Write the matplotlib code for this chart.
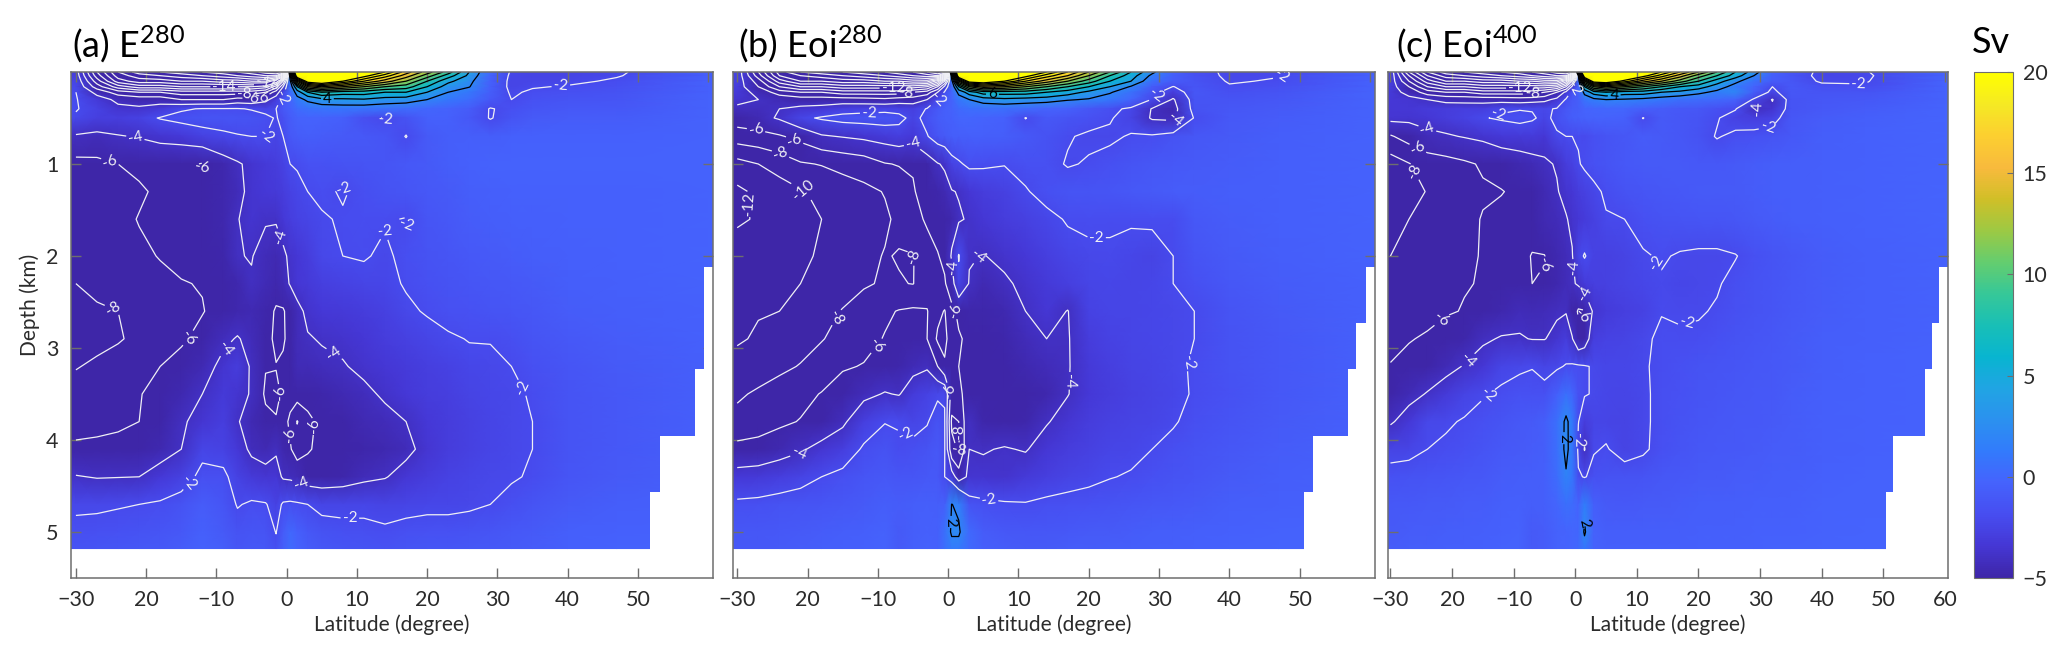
import numpy as np
import matplotlib
matplotlib.use('Agg')
import matplotlib.pyplot as plt
from matplotlib.colors import LinearSegmentedColormap

plt.rcParams['font.family'] = ['Lato', 'DejaVu Sans']
TEXT = '#2b2b2b'
FRAME = '#6e6e6e'

# grid of the overturning streamfunction (Sv)
lat = [-30, -27, -24, -21, -18, -15, -12, -9, -7, -5, -3, -1.5, -.5, .5, 1.5, 3, 5, 8, 11, 14, 17, 20, 23, 26, 29, 32, 35, 40, 47, 60]
depth = [0, .04, .1, .16, .22, .3, .4, .5, .7, 1, 1.3, 1.6, 2, 2.3, 2.6, 2.9, 3.2, 3.5, 3.8, 4.1, 4.4, 4.7, 5, 5.18]

psi_a = [
 [-3,-12,-18,-21,-22,-23,-24,-25,-26,-27,-29,-30,-28,8,30,38,34,30,26,22,17,13,9,4,0,-2.2,-2.5,-2.5,-2.2,-.6],
 [-2.8,-11,-17,-19,-20,-21,-22,-23,-24,-25,-26,-26,-20,4,26,36,32,27,23,19,15,11,7,3.5,-.3,-2.3,-2.5,-2.5,-2.1,-.6],
 [-2.4,-9,-15,-17,-17,-18,-18,-19,-19,-20,-20,-16,-8,1.5,14,24,26,22,18,15,12,8,4.5,2.6,-.5,-2.4,-2.4,-2.3,-1.8,-.5],
 [-2.2,-7,-11,-13,-13,-14,-14,-14,-14,-14,-13,-9,-4,.5,6,14,16,14,12,10,9,6,3,2.1,-.6,-2.4,-2.1,-1.9,-1.6,-.5],
 [-2,-4.6,-7,-8,-8,-9,-9,-9,-9,-9,-8,-5,-2.5,0,3,6,8,7,7,6,6,4,2,1,-.7,-2.2,-1.8,-1.6,-1.4,-.5],
 [-1.9,-3.2,-4.4,-4.8,-4.8,-6,-6,-6,-5.2,-5.4,-4.5,-3,-1.4,-.3,1.2,2.4,3.4,3.6,3.8,3.2,3,2,1,.3,-1,-2,-1.5,-1.3,-1.2,-.4],
 [-1.9,-2.6,-3.6,-3.7,-3.2,-2.2,-1.9,-1.9,-1.9,-2.1,-2.4,-2,-1,-.5,.2,.6,.8,.9,.8,.6,.3,-.1,-.4,-.8,-2.1,-1.6,-1.2,-1,-1,-.4],
 [-2.2,-2.8,-2.9,-2.6,-1.9,-1.5,-1.3,-1.3,-1.3,-1.4,-1.7,-2.1,-1.6,-.8,-.4,-.3,-.4,-.6,-1.7,-2.1,-1.4,-.5,-.5,-1,-2.1,-1.3,-.9,-.8,-.8,-.4],
 [-4.2,-4.4,-4.1,-3.9,-3.6,-3.3,-2.7,-2.3,-2.1,-2,-2,-2.4,-2,-1,-.8,-.7,-.8,-.9,-1,-1.2,-2.05,-.9,-.7,-.6,-.7,-.5,-.5,-.5,-.5,-.4],
 [-6.6,-6.5,-6,-5.5,-5.2,-5.6,-6.1,-4.8,-4.2,-3.6,-3.2,-3,-2.6,-2,-1.9,-1.5,-1.5,-1.4,-1.3,-1.2,-1,-.9,-.7,-.5,-.4,-.4,-.4,-.4,-.4,-.4],
 [-7.2,-7,-7,-6.3,-5.6,-5.5,-5.3,-4.8,-4.4,-3.6,-3.3,-3.2,-3,-2.6,-2.3,-2,-1.8,-2.1,-1.7,-1.4,-1.2,-1,-.9,-.7,-.6,-.5,-.5,-.5,-.5,-.4],
 [-7.4,-7.2,-6.6,-5.9,-5.4,-5.2,-5,-4.8,-4.05,-3.6,-3.9,-3.9,-3.3,-2.9,-2.6,-2.4,-2.1,-1.9,-1.8,-1.9,-2.05,-1.2,-1,-.8,-.7,-.6,-.6,-.5,-.5,-.4],
 [-7.6,-7.4,-6.8,-6.4,-5.9,-5.5,-5.3,-4.9,-4.05,-3.95,-4.4,-4.6,-4.3,-3.7,-3.4,-3,-2.2,-2,-1.9,-2.2,-1.7,-1.4,-1.2,-1,-.9,-.8,-.7,-.6,-.5,-.4],
 [-8,-7.8,-7.4,-7,-6.5,-6.1,-5.9,-5.3,-4.8,-4.1,-4.5,-4.8,-4.5,-3.9,-3.4,-3.2,-2.8,-2.6,-2.4,-2.3,-1.9,-1.6,-1.4,-1.2,-1.1,-1,-.9,-.7,-.6,-.4],
 [-8.1,-8.1,-8,-7.8,-7,-6.6,-6.1,-5.2,-4.8,-4.6,-4.9,-6.3,-6.2,-5.2,-4.4,-3.7,-3.3,-3.2,-3,-2.7,-2.2,-1.9,-1.6,-1.5,-1.3,-1.2,-1.1,-.8,-.7,-.5],
 [-8.6,-8.5,-8.2,-7.5,-7,-6.3,-5.4,-4.3,-3.9,-4.4,-5,-6.6,-6.3,-5.2,-4.4,-4.1,-3.9,-3.7,-3.4,-3,-2.7,-2.4,-2.15,-1.95,-1.95,-1.7,-1.3,-1,-.8,-.5],
 [-8.1,-7.7,-7.1,-6.7,-6,-5.3,-4.6,-3.6,-3,-4.2,-5.9,-5.9,-5.6,-5,-4.5,-4.5,-4.3,-4.1,-3.7,-3.4,-3.1,-2.8,-2.6,-2.3,-2.2,-2,-1.6,-1.2,-.9,-.6],
 [-7.3,-6.9,-6.5,-6.1,-5.4,-4.7,-4,-3.2,-3.6,-4.1,-6.3,-6.6,-5.6,-5.2,-5.1,-5,-4.9,-4.6,-4.3,-3.8,-3.3,-3,-2.8,-2.5,-2.3,-2.2,-1.9,-1.3,-1,-.6],
 [-6.6,-6.5,-6.3,-6,-5,-4.2,-3.5,-2.9,-3.9,-4.6,-5.5,-5.8,-5.2,-6.4,-8.1,-6.6,-5.4,-5,-4.6,-4.4,-4,-3.3,-3,-2.7,-2.4,-2.2,-2,-1.3,-1,-.6],
 [-5.7,-5.6,-5.5,-5,-4.7,-4,-2.4,-2.6,-3.3,-4.3,-4.6,-4.2,-4.8,-5.8,-7,-6.2,-5.5,-5.1,-4.9,-4.7,-4.4,-3.5,-3,-2.7,-2.4,-2.2,-2,-1.3,-1,-.6],
 [-3.9,-4.1,-4.05,-4,-3.3,-2.7,-1.6,-1.7,-2.6,-3.2,-3.5,-3.4,-4.2,-4.3,-4.5,-5,-5.1,-4.9,-4.4,-4.1,-3.4,-3,-2.6,-2.4,-2.2,-2.1,-1.9,-1.2,-.9,-.6],
 [-2.2,-2.2,-2.1,-2,-1.8,-1.4,-.8,-1.2,-2.1,-1.8,-1.9,-2.6,-1.8,-1.7,-1.8,-2,-2.4,-2.4,-2.3,-2.5,-2.4,-2.3,-2.3,-2.2,-2,-1.7,-1.3,-.9,-.7,-.5],
 [-1.7,-1.6,-1.5,-1.4,-1.2,-1,-.5,-.9,-1.4,-1.2,-1.3,-2.05,-.8,0,-.5,-1,-1.4,-1.6,-1.7,-1.8,-1.6,-1.5,-1.5,-1.4,-1.2,-1,-.9,-.6,-.5,-.4],
 [-1.4,-1.3,-1.2,-1.1,-1,-.8,-.4,-.7,-1.2,-1,-1.1,-1.6,-.7,.2,-.3,-.8,-1.1,-1.3,-1.4,-1.5,-1.3,-1.2,-1.2,-1.1,-1,-.9,-.8,-.5,-.4,-.3],
]

psi_b = [
 [-2.5,-10,-17,-20,-21,-22,-23,-24,-25,-26,-28,-30,-28,10,28,38,34,30,26,22,18,14,10,6,2.5,-.5,-1.6,-2.2,-2.1,-.5],
 [-2.6,-9,-16,-18,-19,-20,-21,-22,-23,-24,-25,-26,-20,4,26,36,32,27,23,19,16,12,8,5,1.5,-.6,-1.5,-2.2,-2.05,-.5],
 [-2.8,-7,-13,-16,-16,-17,-17,-18,-18,-19,-19,-15,-8,1,14,24,25,22,18,15,12,9,6,4,.5,-.8,-1.3,-2.1,-1.9,-.5],
 [-3,-6,-10,-12,-12,-13,-13,-13,-13,-13,-12,-8,-3.5,0,6,12,15,14,12,10,8,6,4,1.8,-.8,-2.05,-1.2,-1.9,-1.6,-.5],
 [-3.2,-4.5,-7,-8,-8,-9,-9,-9,-9,-8,-7,-4,-1.8,-.2,2.6,5,7,7,7,6,5,3.5,2.2,.6,-1.4,-3,-1.1,-1.6,-1.3,-.4],
 [-3.6,-4,-4.5,-5,-5,-5,-5.2,-5.5,-5,-5,-4,-2,-1,-.4,1,2,3,3.5,3.2,3,2.2,1.8,1,-.2,-2.1,-4.2,-1.3,-1.3,-1.1,-.4],
 [-4.3,-4.3,-4,-3.6,-3.4,-2.8,-2.6,-2.5,-2.6,-2.8,-1.9,-1,-.6,-.4,.1,.4,.5,.5,.2,-.3,-.5,-1.1,-1.6,-2.3,-4.1,-4.7,-1.4,-1.1,-.9,-.4],
 [-5,-4.6,-3.8,-2.4,-1.8,-1.4,-1.3,-1.2,-1.5,-2.5,-1.5,-.8,-.6,-.5,-.2,-.2,-.3,-.5,-2.05,-1,-1.3,-1.5,-1.9,-2.5,-4.2,-4.4,-1.9,-1,-.8,-.4],
 [-7,-6.7,-6.2,-5.4,-4.2,-3.9,-3.6,-3.2,-2.9,-3.3,-2.1,-1.2,-.9,-.7,-.7,-.6,-.6,-.7,-1,-1.4,-1.9,-2.2,-2.2,-1.9,-1.8,-1.4,-1.1,-.9,-.7,-.4],
 [-10.7,-10,-9.2,-8.2,-7.9,-7.4,-7,-6.1,-5.9,-5.9,-5,-4.1,-3.8,-2.6,-2.2,-1.7,-1.8,-1.95,-1.6,-1.6,-2.1,-1.9,-1.6,-1.3,-1.1,-1,-.9,-.8,-.6,-.4],
 [-12.4,-11.6,-10.9,-10.2,-9.5,-9,-8.5,-7.9,-7,-6.1,-5.5,-4.9,-4.6,-4.1,-3.9,-3.4,-3,-2.7,-2.1,-1.6,-1.3,-1.3,-1.2,-1,-.9,-.8,-.8,-.7,-.6,-.4],
 [-12.3,-11.8,-11.3,-10.7,-10,-9.4,-8.8,-8.3,-7.6,-6.5,-5.8,-5.3,-5.2,-4.8,-4.2,-3.8,-3.4,-3,-2.7,-2.3,-1.9,-1.8,-1.9,-1.9,-1.8,-1.9,-1,-.8,-.6,-.4],
 [-11,-11,-10.9,-10.3,-9.8,-9.2,-8.5,-7.9,-8.1,-8.1,-6.6,-6.1,-5.6,-3.8,-1.9,-3.9,-4.05,-3.7,-3.3,-2.8,-2.4,-2.2,-2.1,-2.3,-2.5,-2,-1.3,-.9,-.7,-.4],
 [-10.8,-11,-10.3,-10,-9.4,-8.8,-8.2,-7.8,-7.9,-8.05,-7,-6.4,-6.2,-4.8,-2.4,-4.1,-4.6,-4.2,-3.7,-3.2,-2.8,-2.4,-2.3,-2.4,-2.3,-2,-1.6,-1.1,-.8,-.5],
 [-10.7,-10.1,-10,-9.6,-8.6,-7.9,-7.2,-6.3,-5.9,-5.7,-5.9,-7.5,-8.1,-6.5,-5.6,-4.9,-4.9,-4.7,-4,-3.4,-4.05,-2.6,-2.4,-2.4,-2.3,-2.2,-2,-1.3,-.9,-.5],
 [-10.2,-9.8,-9.4,-8.7,-8.1,-7.4,-6.6,-5.9,-5.2,-5.2,-6,-8.3,-8.4,-7.2,-6.2,-5.6,-5.2,-4.9,-4.4,-4,-4.1,-3,-2.6,-2.4,-2.3,-2.2,-2,-1.4,-1,-.5],
 [-9.4,-9,-8.4,-7.9,-7.2,-6.2,-5.9,-5.2,-4.9,-4.5,-4.2,-6,-7.8,-6.9,-6,-5.5,-5.4,-5.1,-4.7,-4.4,-4.1,-3.2,-2.8,-2.5,-2.4,-2.2,-1.9,-1.4,-1,-.5],
 [-8.3,-7.7,-7.2,-6.6,-5.9,-5.1,-4.4,-3.9,-4.1,-3.1,-2.6,-2.2,-2.1,-7,-6.2,-5.6,-5.5,-5.3,-5.1,-4.8,-4.05,-3.3,-3,-2.7,-2.5,-2.3,-1.9,-1.5,-1,-.5],
 [-7.4,-7,-6.4,-5.9,-5.1,-4.3,-2.8,-2.05,-2.05,-2.4,-2.1,-1.4,-1.9,-8.3,-8,-4.1,-4.9,-5,-4.9,-4.1,-3.5,-3,-2.7,-2.5,-2.4,-2.1,-1.7,-1.3,-.9,-.5],
 [-5.4,-5.2,-4.7,-4.2,-3.5,-2.9,-1.8,-1.4,-1.9,-1.7,-1.4,-1,-1.9,-7.5,-8.2,-4,-4.1,-3.9,-4.1,-3.4,-3,-2.7,-2.4,-2.3,-2,-1.7,-1.4,-1.1,-.8,-.4],
 [-3.3,-3.2,-2.9,-2.5,-2,-1.6,-1.2,-1,-1.2,-1.2,-1,-1,-2,-3,-5,-3.6,-3.6,-3.7,-3.2,-2.8,-2.5,-2.3,-2.05,-1.9,-1.6,-1.4,-1.2,-.9,-.7,-.4],
 [-1.7,-1.6,-1.4,-1.3,-1.2,-1.1,-.9,-.7,-.8,-.7,-.6,-.7,-.6,2.05,1.6,-1.3,-1.6,-1.8,-1.9,-1.7,-1.6,-1.5,-1.4,-1.2,-1.1,-1,-.9,-.7,-.6,-.4],
 [-1.1,-1.1,-1,-.9,-.8,-.7,-.6,-.4,-.9,-.7,-.5,-.6,.5,2.3,2.3,.1,-.8,-1,-1.1,-1.1,-1,-.9,-.9,-.8,-.7,-.7,-.6,-.5,-.4,-.3],
 [-1,-1,-.9,-.8,-.7,-.6,-.5,-.3,-.9,-.6,-.4,-.5,.4,1.2,1.2,.1,-.6,-.8,-.9,-.9,-.8,-.8,-.7,-.7,-.6,-.6,-.5,-.4,-.3,-.3],
]

psi_c = [
 [-2.5,-12,-18,-21,-22,-23,-24,-25,-26,-27,-29,-30,-28,14,30,38,34,30,26,22,18,14,10,6,3,-.5,-1.2,-2.3,-2.1,-.4],
 [-2.6,-10,-16,-19,-20,-21,-22,-23,-24,-25,-26,-26,-20,2,26,36,32,27,23,19,15,11,8,5,2,-.6,-1.2,-2.4,-2.2,-.4],
 [-2.8,-8,-13,-16,-16,-17,-17,-18,-18,-19,-19,-15,-8,.5,14,24,25,21,17,14,11,8,5,2.5,.6,-.8,-1.1,-2.2,-2.1,-.4],
 [-3,-6,-10,-12,-12,-13,-13,-13,-13,-13,-12,-8,-3.5,-.3,6,12,14,12,10,8,6,5,3,1.2,-.3,-2,-1,-1.6,-1.9,-.4],
 [-3.2,-4.6,-7,-8,-8,-9,-9,-9,-9,-8,-6,-3.5,-1.5,-.6,2.6,5,6,5,5,4,3.5,2.5,1.5,2,-.7,-2.4,-1.1,-1.3,-1.3,-.4],
 [-3.3,-3.5,-4,-4.5,-4.7,-4.7,-4.8,-5,-4.8,-4.5,-3.5,-1.8,-1,-.7,.8,1.5,2,1.8,1.5,1,.5,.3,.1,-.4,-2.2,-4.1,-1.3,-1.1,-1,-.4],
 [-3.4,-3.4,-3.1,-3,-2.8,-2.9,-2.2,-2.1,-2.1,-2.2,-1.9,-1.1,-.8,-.7,-.3,-.2,-.1,-.1,-.6,-.8,-1,-1.1,-1.5,-1.9,-4.1,-3.6,-1.3,-1,-.8,-.3],
 [-3.5,-3.6,-3.4,-3,-2.6,-2.1,-1.8,-1.5,-1.8,-2.4,-1.6,-1,-.7,-.6,-.4,-.4,-.4,-.5,-2.05,-.9,-1.1,-1.3,-1.9,-2.6,-2.9,-2.6,-1.1,-.8,-.6,-.3],
 [-6.2,-5.2,-4.4,-4.2,-3.9,-3.6,-3.3,-3.2,-3.1,-3.4,-2.2,-2,-2,-1.9,-2,-1.6,-1.3,-1.1,-.8,-.9,-1.1,-1.4,-2.1,-1.7,-1.5,-1.3,-1,-.7,-.5,-.3],
 [-9,-8.1,-7.1,-6.7,-6.3,-5.8,-5,-4.7,-4.5,-4.2,-3.9,-3,-2.7,-2.1,-1.8,-1.5,-1.3,-1,-.9,-.9,-.9,-1,-1,-.9,-.8,-.7,-.7,-.6,-.5,-.3],
 [-9,-8.7,-7.9,-7.2,-6.7,-6.2,-6.1,-5.5,-5,-4.6,-4.1,-3.6,-3.4,-3,-2.7,-2.3,-1.8,-1.4,-1.2,-1.1,-1,-.9,-.9,-.9,-.8,-.7,-.7,-.6,-.5,-.3],
 [-8.5,-8,-7.4,-7,-6.5,-5.9,-5.4,-5.2,-5.1,-4.6,-4.4,-4.1,-3.7,-3.4,-3.1,-2.7,-2.1,-2,-1.6,-1.4,-1.3,-1.2,-1.2,-1.1,-.9,-.8,-.7,-.6,-.5,-.3],
 [-8,-7.6,-7.2,-6.9,-6.3,-5.9,-5.5,-5.4,-6.1,-6.05,-4.7,-4.4,-4.1,-2.4,-1.9,-2.6,-2.7,-2.5,-2.1,-1.9,-2.1,-2.2,-2.2,-2.05,-1.6,-1.3,-1.1,-.8,-.6,-.4],
 [-7.7,-7.4,-6.9,-6.6,-6.1,-5.9,-5.3,-5.1,-6,-5.9,-4.8,-4.4,-4.2,-3.8,-3.1,-2.8,-2.7,-2.5,-2.3,-2.1,-2.3,-2.2,-2.1,-1.7,-1.4,-1.2,-1,-.8,-.6,-.4],
 [-7.2,-6.9,-6.5,-6.2,-5.9,-5.3,-4.8,-4.4,-4.5,-4.4,-4.2,-4.1,-5,-6.2,-6.1,-3.6,-3.1,-2.8,-2.6,-2.05,-2.1,-2.1,-1.9,-1.6,-1.4,-1.2,-1,-.8,-.6,-.4],
 [-6.6,-6.1,-5.8,-5.1,-4.9,-4.2,-3.9,-3.9,-4.05,-4.05,-3.6,-3,-3.9,-5.5,-5,-2.9,-2.6,-2.5,-2.2,-1.8,-1.9,-1.8,-1.6,-1.4,-1.2,-1.1,-.9,-.7,-.6,-.4],
 [-5.9,-5.5,-5,-4.5,-3.9,-3.4,-2.4,-2.2,-2.05,-2.4,-2.2,-1.9,-1.8,-1.8,-1.9,-2.1,-2.3,-2.3,-2.1,-1.8,-1.6,-1.4,-1.3,-1.2,-1.1,-1,-.9,-.7,-.5,-.4],
 [-5,-4.5,-3.9,-3.2,-2.5,-2.1,-1.8,-1.5,-1.6,-1.6,-.6,.5,-.1,-1.5,-1.9,-2.1,-2.3,-2.4,-2.2,-1.7,-1.5,-1.3,-1.2,-1.1,-1,-1,-.8,-.6,-.5,-.4],
 [-4.2,-3.3,-2.2,-2.15,-1.9,-1.6,-1.3,-1,-.9,-.7,.5,2.4,1.2,-1.95,-3,-2.4,-2.4,-2.5,-2.2,-1.7,-1.4,-1.2,-1.1,-1,-1,-.9,-.8,-.6,-.5,-.4],
 [-2.5,-2.4,-2,-1.8,-1.6,-1.3,-1,-.9,-.8,-.7,.4,2.5,1.1,-2.4,-4.1,-2.1,-1.9,-2.5,-2.2,-1.6,-1.3,-1.1,-1,-1,-.9,-.8,-.8,-.6,-.5,-.3],
 [-1.5,-1.4,-1.3,-1.2,-1.1,-1,-.8,-.7,-.7,-.6,.3,1.8,1,-1.8,-2.1,-1.6,-1.4,-1.4,-1.3,-1.1,-1,-.9,-.9,-.8,-.8,-.7,-.7,-.5,-.4,-.3],
 [-1,-1,-.9,-.9,-.8,-.8,-.6,-.5,-.7,-.6,-.2,.5,.3,-.3,1.5,-.6,-.9,-1,-.9,-.9,-.8,-.7,-.7,-.7,-.6,-.6,-.6,-.4,-.4,-.3],
 [-.9,-.8,-.8,-.7,-.7,-.6,-.5,-.4,-.9,-.8,-.4,-.3,-.2,-.1,2.3,-.4,-.7,-.7,-.7,-.7,-.7,-.6,-.6,-.6,-.5,-.5,-.5,-.4,-.3,-.3],
 [-.8,-.7,-.7,-.6,-.6,-.5,-.4,-.4,-.9,-.8,-.4,-.3,-.2,0,1,-.3,-.6,-.6,-.6,-.6,-.6,-.5,-.5,-.5,-.5,-.4,-.4,-.3,-.3,-.3],
]

# sea floor steps, white below/right of them
floor_lat_a = [59.4, 58.1, 53.1, 51.8]
floor_dep_a = [2.12, 3.23, 3.96, 4.57]
floor_lat_b = [59.4, 58.0, 56.8, 51.9, 50.6]
floor_dep_b = [2.12, 2.73, 3.23, 3.96, 4.57]
floor_lat_c = [59.1, 57.9, 56.7, 51.6, 50.4]
floor_dep_c = [2.12, 2.73, 3.23, 3.96, 4.57]

# contour label spots (lat, depth)
neg_a = [(-21.5,.7),(-25,.94),(-11.3,1.15),(-1.7,1.81),(-2.8,.7),(8.8,1.21),(13.7,1.63),(17.6,1.77),(-24.2,2.5),(14.4,.54),
         (-13.8,2.9),(-8.7,3.01),(6.3,3.11),(33,3.45),(-.4,3.48),(4,3.85),(1.6,3.94),(2.5,4.39),(-14.6,4.42),(9,4.8),
         (-8.9,.17),(-2.7,.13),(-6,.24),(-5,.27),(-4,.28),(.3,.32),(39,.12)]
pos_a = [(5.8,.28)]
neg_b = [(-27,.48),(-22,.77),(-23.9,.9),(-20.6,1.28),(-29.1,1.44),(-11.2,.49),(-5,.77),(-.4,.38),(29.6,.25),(32,.49),(47.8,.07),
         (-4.5,2.01),(21.1,1.83),(1,2.12),(3.3,1.93),(1.4,2.58),(-16.1,2.66),(-10.3,2.97),(34.2,3.16),(18.7,3.36),(-21.7,4.05),
         (-6.7,4.04),(.6,3.46),(1.4,3.91),(1.2,4.14),(5.9,4.6),(-7.8,.19),(-6,.24)]
pos_b = [(-.2,4.89),(6.3,.24)]
neg_c = [(-12.4,.47),(-24.1,.63),(-25.4,.81),(-25.9,1.08),(2.3,.29),(46,.12),(31,.47),(31.2,.58),(1.2,2.12),(-4.5,2.12),
         (11.9,2.12),(1.4,2.42),(1.1,2.66),(18.1,2.73),(-20.4,2.79),(-17.4,3.13),(-14.7,3.48),(1.5,4),(-9,.19),(-7,.24)]
pos_c = [(-2.1,3.98),(1,4.9),(6.3,.24)]

xticks = [-30, -20, -10, 0, 10, 20, 30, 40, 50, 60]
xlabels_ab = ['\u221230', '20', '\u221210', '0', '10', '20', '30', '40', '50', '']
xlabels_c = ['\u221230', '20', '\u221210', '0', '10', '20', '30', '40', '50', '60']
yticks = [1, 2, 3, 4, 5]

parula = ['#3e26a8', '#4537d5', '#474df0', '#4563fd', '#327bfc', '#2b91ef', '#20a5e3', '#08b5d0', '#19bfb6',
          '#37c897', '#64cd6f', '#9dc943', '#d1bf27', '#f8ba3d', '#fccf30', '#f5e924', '#ffff00']
cmap = LinearSegmentedColormap.from_list('parula', parula, N=256)

W, H = 2067, 660


def make_axes(x0, x1):
  return fig.add_axes([x0 / W, 1 - 578 / H, (x1 - x0) / W, (578 - 72) / H])


def draw_panel(ax, psi, xlim, floor_lat, floor_dep, neg_spots, pos_spots, xlabels):
  z = np.array(psi, dtype=float)
  # stretch the outer cells out to the frame
  zz = np.pad(z, ((0, 0), (1, 1)), mode='edge')
  xx = np.r_[xlim[0], lat, xlim[1]]
  mesh = ax.pcolormesh(xx, depth, zz, cmap=cmap, vmin=-5, vmax=20, shading='gouraud', zorder=1)

  cn = ax.contour(lat, depth, z, levels=np.arange(-30, -1, 2), colors='#f0f0f5', linewidths=.9, linestyles='solid', zorder=2)
  cp = ax.contour(lat, depth, z, levels=np.arange(2, 23, 2), colors='black', linewidths=.9, zorder=2)
  ax.clabel(cn, fmt='%d', fontsize=11, manual=neg_spots, inline_spacing=2)
  ax.clabel(cp, fmt='%d', fontsize=11, manual=pos_spots, inline_spacing=2)

  for x, d in zip(floor_lat, floor_dep):
    ax.fill_between([x, xlim[1] + 1], d, 5.6, color='white', lw=0, zorder=2.2)

  ax.set_xlim(xlim)
  ax.set_ylim(5.5, 0)
  ax.set_xticks(xticks)
  ax.set_xticklabels(xlabels)
  ax.set_yticks(yticks)
  ax.tick_params(direction='in', top=True, right=True, length=7, width=1, color=FRAME, labelcolor=TEXT,
                 labelsize=15.5, pad=9)
  for s in ax.spines.values():
    s.set_color(FRAME)
    s.set_linewidth(1.1)
  ax.set_xlabel('Latitude (degree)', fontsize=15, color=TEXT, labelpad=3)
  return mesh


fig = plt.figure(figsize=(W / 100, H / 100), dpi=100)

ax_a = make_axes(71, 713)
ax_b = make_axes(733, 1375)
ax_c = make_axes(1388, 1948)

mesh = draw_panel(ax_a, psi_a, (-30.7, 60.7), floor_lat_a, floor_dep_a, neg_a, pos_a, xlabels_ab)
draw_panel(ax_b, psi_b, (-30.6, 60.7), floor_lat_b, floor_dep_b, neg_b, pos_b, xlabels_ab)
draw_panel(ax_c, psi_c, (-30.4, 60.5), floor_lat_c, floor_dep_c, neg_c, pos_c, xlabels_c)

ax_a.set_ylabel('Depth (km)', fontsize=15, color=TEXT)
ax_a.yaxis.set_label_coords(-.048, .54)
ax_b.set_yticklabels([])
ax_c.set_yticklabels([])

for ax, title, x0 in zip([ax_a, ax_b, ax_c],
                         [r'(a) E$^{\mathdefault{280}}$', r'(b) Eoi$^{\mathdefault{280}}$', r'(c) Eoi$^{\mathdefault{400}}$'],
                         [72, 738, 1396]):
  fig.text(x0 / W, 1 - 58 / H, title, fontsize=26, color='black', va='baseline')

cax = fig.add_axes([1974 / W, 1 - 578 / H, 39 / W, (578 - 72) / H])
cb = fig.colorbar(mesh, cax=cax, ticks=[-5, 0, 5, 10, 15, 20])
cb.ax.set_yticklabels(['\u22125', '0', '5', '10', '15', '20'])
cb.ax.tick_params(direction='in', length=4, color=FRAME, labelcolor=TEXT, labelsize=15.5, pad=7)
cb.outline.set_edgecolor(FRAME)
fig.text(1972 / W, 1 - 53 / H, 'Sv', fontsize=26, color='black', va='baseline')

fig.savefig('out.png', dpi=100)
